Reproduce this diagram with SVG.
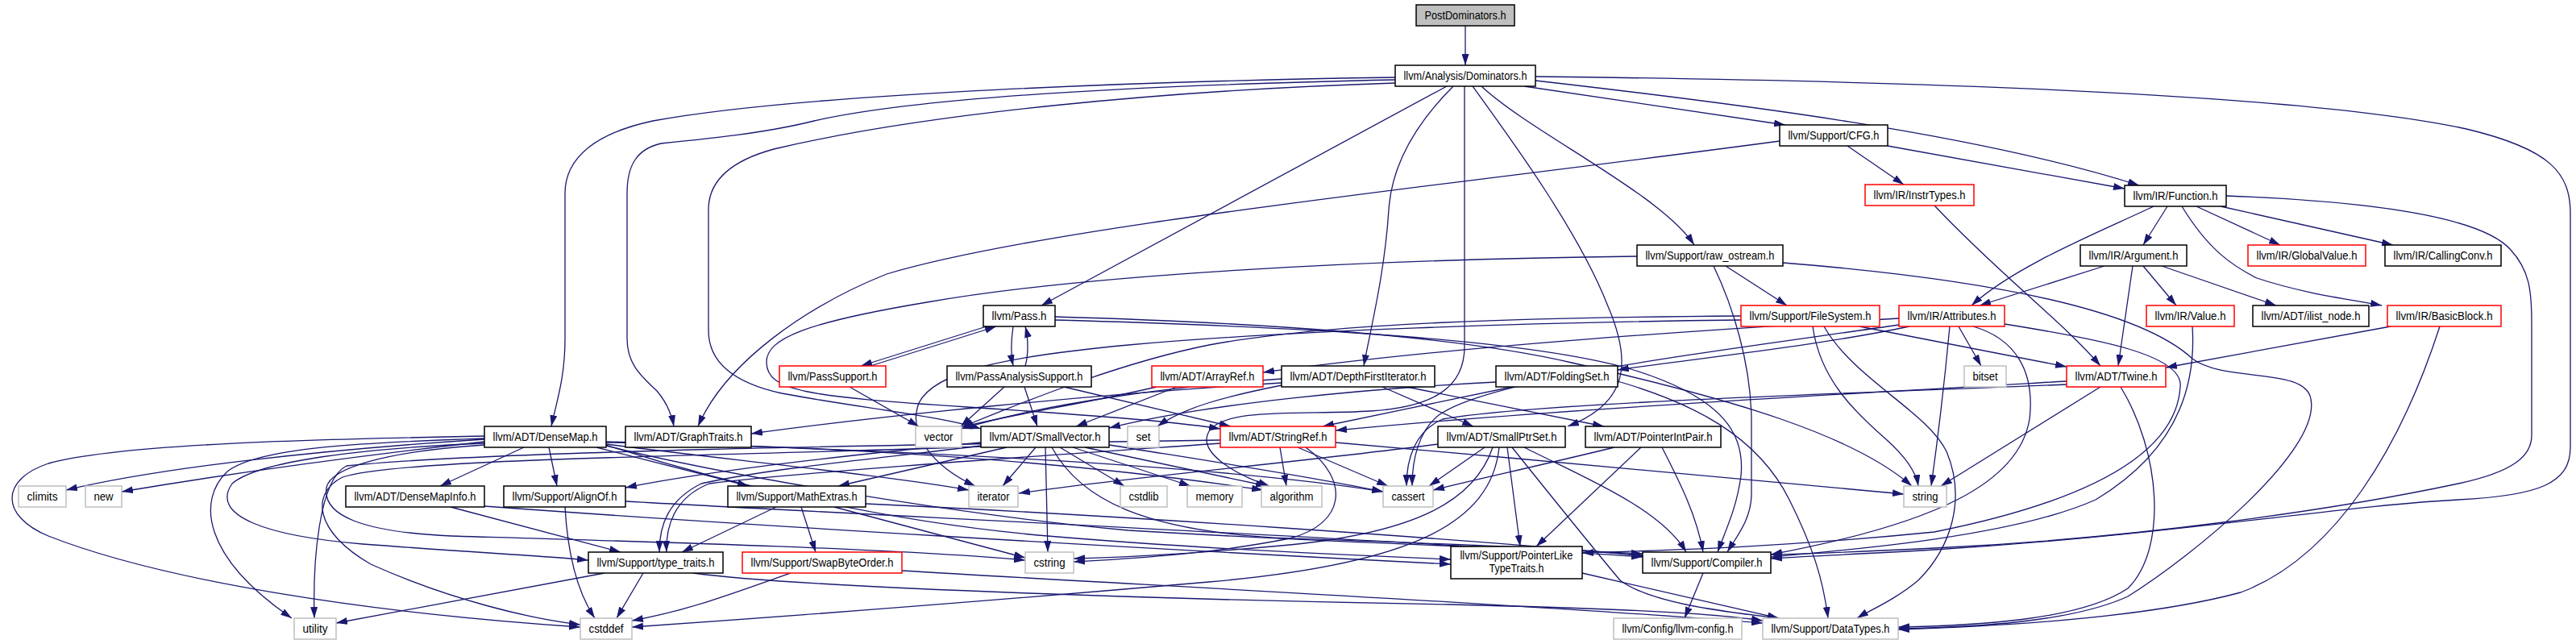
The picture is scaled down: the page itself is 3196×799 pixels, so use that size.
<svg xmlns="http://www.w3.org/2000/svg" width="3196" height="799" viewBox="0 0 3196 799">
<defs>
<marker id="ah" markerWidth="14" markerHeight="9" refX="14" refY="4.5" orient="auto" markerUnits="userSpaceOnUse"><path d="M0,0 L14,4.5 L0,9 z" fill="#191970"/></marker>
<style>
text{font-family:"Liberation Sans",Arial,sans-serif;font-size:14px;fill:#000;text-anchor:middle}
.nd rect{fill:#fff;stroke:#000;stroke-width:1.5}
.rd rect{fill:#fff;stroke:#f00;stroke-width:1.5}
.gy rect{fill:#fff;stroke:#bfbfbf;stroke-width:1.5}
.rt rect{fill:#bfbfbf;stroke:#000;stroke-width:1.5}
#edges path{fill:none;stroke:#191970;stroke-width:1.3;marker-end:url(#ah)}
</style>
</defs>
<rect width="3196" height="799" fill="#fff"/>
<g id="edges">
<path d="M1818,32 L1818,81"/>
<path d="M1731,96 C1450,100 1000,115 810,150 C740,165 701,195 701,240 L701,420 C701,470 690,500 684,529"/>
<path d="M1731,99 C1450,105 1150,118 1010,150 C950,165 880,172 820,178 C790,185 778,205 778,240 L778,420 C778,455 800,470 815,485 C826,498 833,512 836,529"/>
<path d="M1731,103 C1450,112 1150,140 960,185 C905,200 879,225 879,260 L879,410 C879,450 910,475 970,488 C1060,505 1160,515 1217,532"/>
<path d="M1795,107 L1292,379"/>
<path d="M1803,107 C1760,150 1727,200 1723,260 C1718,340 1700,410 1692,454"/>
<path d="M1817,107 L1817,430 C1817,480 1780,505 1700,510 C1620,515 1520,505 1500,535 C1485,560 1530,588 1575,603"/>
<path d="M1827,107 C1880,180 1960,290 1995,380 C2025,450 2020,500 1945,529"/>
<path d="M1838,107 C1900,165 2060,240 2102,304"/>
<path d="M1891,107 L2215,155"/>
<path d="M1905,100 C2150,128 2450,165 2654,230"/>
<path d="M1905,95 C2350,100 2850,115 3060,160 C3165,185 3189,215 3189,265 L3189,555 C3189,600 3150,615 3050,620 C2900,628 2700,663 2400,682 C2300,688 2240,690 2197,693"/>
<path d="M1224,405 L1068,454"/>
<path d="M1080,454 L1236,405"/>
<path d="M1257,405 C1254,425 1254,440 1257,454"/>
<path d="M1272,454 C1276,440 1276,420 1272,405"/>
<path d="M1309,393 C1550,400 1800,415 1950,450 C2150,495 2300,540 2372,603"/>
<path d="M1309,397 C1600,405 1900,420 2030,460 C2140,495 2165,540 2160,590 C2155,630 2140,660 2131,685"/>
<path d="M1054,480 L1140,529"/>
<path d="M1246,480 L1192,529"/>
<path d="M1271,480 L1287,529"/>
<path d="M1320,480 L1527,529"/>
<path d="M1460,480 L1335,529"/>
<path d="M1435,480 C1350,500 1250,515 1193,530"/>
<path d="M1590,470 C1450,480 1300,500 1193,532"/>
<path d="M1590,475 C1350,490 1100,515 932,538"/>
<path d="M1590,478 C1520,492 1470,505 1436,529"/>
<path d="M1715,480 L1828,529"/>
<path d="M1745,480 L1990,529"/>
<path d="M1856,474 C1700,482 1500,500 1376,531"/>
<path d="M1876,480 L1641,529"/>
<path d="M2007,473 C2100,500 2180,540 2220,620 C2250,680 2262,720 2268,767"/>
<path d="M1285,555 L1244,603"/>
<path d="M1297,555 L1300,685"/>
<path d="M1315,555 L1395,603"/>
<path d="M1331,555 L1477,603"/>
<path d="M1346,555 L1572,603"/>
<path d="M1305,555 C1340,620 1420,660 1600,668 C1800,675 1950,680 2038,690"/>
<path d="M1249,555 L1040,603"/>
<path d="M1217,553 C1100,568 960,580 870,600 C830,620 818,650 818,685"/>
<path d="M1217,549 C1100,560 900,580 776,605"/>
<path d="M1376,552 C1500,572 1620,590 1716,610"/>
<path d="M1217,554 C900,566 500,568 425,592 C385,612 390,660 460,700 C560,745 660,768 720,775"/>
<path d="M1657,549 C1900,570 2200,598 2362,613"/>
<path d="M1610,555 L1722,603"/>
<path d="M1620,555 C1675,595 1670,650 1600,668 C1500,688 1400,693 1332,697"/>
<path d="M1514,550 C1300,565 1000,585 880,600 C835,618 826,655 827,685"/>
<path d="M1514,546 C1100,552 600,560 430,578 C395,595 388,700 390,767"/>
<path d="M1588,555 L1596,603"/>
<path d="M1842,555 L1773,603"/>
<path d="M1852,555 C1830,620 1760,660 1600,676 C1450,690 1380,692 1332,693"/>
<path d="M1860,555 C1850,650 1750,700 1500,722 C1200,748 900,770 784,778"/>
<path d="M1870,555 L1886,678"/>
<path d="M1876,555 C1920,610 1960,660 2010,720 C2050,750 2150,760 2207,767"/>
<path d="M1891,555 C1960,590 2060,630 2092,685"/>
<path d="M1784,551 C1600,575 1400,592 1264,612"/>
<path d="M2003,555 C1900,580 1830,595 1778,608"/>
<path d="M2036,555 L1906,678"/>
<path d="M2062,555 C2085,600 2105,640 2113,685"/>
<path d="M1963,711 L2207,767"/>
<path d="M2113,711 L2090,767"/>
<path d="M2564,473 C2300,488 1900,510 1657,534"/>
<path d="M2564,477 C2300,488 1900,500 1790,520 C1755,535 1745,570 1745,603"/>
<path d="M2606,480 L2408,603"/>
<path d="M2631,480 C2680,560 2690,680 2640,730 C2580,770 2450,776 2355,778"/>
<path d="M2307,405 L2564,455"/>
<path d="M2249,405 C2258,470 2300,510 2340,545 C2368,570 2378,590 2380,603"/>
<path d="M2263,405 C2300,470 2390,510 2415,560 C2440,620 2420,680 2380,720 C2350,745 2320,757 2304,767"/>
<path d="M2160,392 C1900,394 1650,400 1500,428 C1400,448 1290,490 1193,530"/>
<path d="M2160,397 C1900,400 1600,410 1400,428 C1250,442 1160,460 1140,500 C1125,540 1160,580 1210,603"/>
<path d="M2356,395 C2100,410 1800,430 1567,462"/>
<path d="M2369,405 C2250,430 2100,445 2007,459"/>
<path d="M2430,405 L2458,454"/>
<path d="M2419,405 C2412,480 2402,560 2396,603"/>
<path d="M2356,403 C2100,440 1850,470 1785,515 C1760,535 1752,570 1752,603"/>
<path d="M2487,402 C2600,420 2710,440 2705,480 C2700,560 2600,620 2400,660 C2200,680 2050,683 1963,686"/>
<path d="M2448,405 C2500,420 2525,460 2518,520 C2505,600 2400,650 2197,688"/>
<path d="M2611,330 L2456,379"/>
<path d="M2646,330 L2628,454"/>
<path d="M2659,330 L2700,379"/>
<path d="M2682,330 L2824,379"/>
<path d="M2672,256 C2600,290 2500,330 2446,379"/>
<path d="M2689,256 L2659,304"/>
<path d="M2725,256 L2829,304"/>
<path d="M2755,256 L2969,304"/>
<path d="M2707,256 C2740,310 2770,330 2800,345 C2860,365 2920,372 2955,379"/>
<path d="M2762,243 C2950,250 3080,270 3115,310 C3138,335 3141,360 3141,400 L3141,540 C3141,565 3120,585 3050,600 C2900,632 2650,668 2400,680 C2300,685 2240,687 2197,688"/>
<path d="M2342,181 L2636,234"/>
<path d="M2292,181 L2362,229"/>
<path d="M2208,175 C1800,230 1300,280 1100,340 C1000,380 900,450 866,529"/>
<path d="M2400,255 C2480,340 2560,400 2606,454"/>
<path d="M2141,330 L2217,379"/>
<path d="M2126,330 C2150,380 2172,450 2173,520 L2173,615 C2172,645 2155,665 2143,685"/>
<path d="M2212,326 C2450,345 2650,380 2720,445 C2760,475 2860,455 2867,495 C2880,560 2720,690 2640,740 C2570,772 2450,778 2355,780"/>
<path d="M2031,318 C1700,322 1350,340 1150,375 C1000,400 950,420 951,450 C952,485 1000,492 1200,505 C1350,515 1450,522 1514,532"/>
<path d="M2720,405 C2725,480 2700,560 2600,620 C2500,665 2300,682 2197,691"/>
<path d="M2966,405 L2687,456"/>
<path d="M3027,405 C2980,550 2900,690 2780,735 C2650,770 2450,778 2355,781"/>
<path d="M601,545 C400,558 200,580 82,608"/>
<path d="M601,548 C450,565 300,585 151,610"/>
<path d="M650,555 L546,603"/>
<path d="M681,555 L691,603"/>
<path d="M601,541 C400,545 150,550 60,575 C0,595 0,640 60,665 C200,720 450,760 720,778"/>
<path d="M601,544 C450,549 320,555 282,585 C245,620 250,690 362,767"/>
<path d="M601,550 C450,556 320,572 288,600 C260,640 330,665 450,675 C580,685 680,690 730,695"/>
<path d="M601,552 C480,560 410,580 405,605 C400,640 450,660 560,665 C800,672 1100,680 1272,695"/>
<path d="M740,555 L929,603"/>
<path d="M752,551 C900,570 1100,590 1202,608"/>
<path d="M752,549 C1000,553 1300,568 1567,608"/>
<path d="M752,548 C1050,556 1500,575 1716,610"/>
<path d="M752,553 C900,590 1200,640 1400,658 C1700,676 1900,680 2038,687"/>
<path d="M752,552 C900,600 1100,648 1300,665 C1500,682 1700,690 1800,694"/>
<path d="M559,629 L770,685"/>
<path d="M601,628 C900,650 1400,680 1800,700"/>
<path d="M701,629 C705,700 720,740 738,767"/>
<path d="M776,622 C1100,640 1700,668 2038,691"/>
<path d="M963,629 L846,685"/>
<path d="M994,629 L1012,685"/>
<path d="M1035,629 L1272,692"/>
<path d="M1074,625 C1400,640 1800,668 2038,689"/>
<path d="M750,711 L417,773"/>
<path d="M798,711 L765,767"/>
<path d="M860,711 C1000,730 1500,745 1800,750 C2000,755 2120,760 2187,770"/>
<path d="M981,711 C900,740 850,758 784,770"/>
<path d="M1119,708 C1400,725 1900,750 2187,773"/>
</g>
<g id="n_postdom" class="rt"><rect x="1757" y="6" width="122" height="26"/><text x="1818" y="24" textLength="101" lengthAdjust="spacingAndGlyphs">PostDominators.h</text></g>
<g id="n_dom" class="nd"><rect x="1731" y="81" width="174" height="26"/><text x="1818" y="99" textLength="153" lengthAdjust="spacingAndGlyphs">llvm/Analysis/Dominators.h</text></g>
<g id="n_cfg" class="nd"><rect x="2208" y="155" width="134" height="26"/><text x="2275" y="173" textLength="113" lengthAdjust="spacingAndGlyphs">llvm/Support/CFG.h</text></g>
<g id="n_instr" class="rd"><rect x="2314" y="229" width="135" height="26"/><text x="2381.5" y="247" textLength="114" lengthAdjust="spacingAndGlyphs">llvm/IR/InstrTypes.h</text></g>
<g id="n_func" class="nd"><rect x="2636" y="230" width="126" height="26"/><text x="2699" y="248" textLength="105" lengthAdjust="spacingAndGlyphs">llvm/IR/Function.h</text></g>
<g id="n_rawos" class="nd"><rect x="2031" y="304" width="181" height="26"/><text x="2121.5" y="322" textLength="160" lengthAdjust="spacingAndGlyphs">llvm/Support/raw_ostream.h</text></g>
<g id="n_arg" class="nd"><rect x="2581" y="304" width="132" height="26"/><text x="2647" y="322" textLength="111" lengthAdjust="spacingAndGlyphs">llvm/IR/Argument.h</text></g>
<g id="n_gv" class="rd"><rect x="2789" y="304" width="146" height="26"/><text x="2862" y="322" textLength="125" lengthAdjust="spacingAndGlyphs">llvm/IR/GlobalValue.h</text></g>
<g id="n_cc" class="nd"><rect x="2959" y="304" width="144" height="26"/><text x="3031" y="322" textLength="123" lengthAdjust="spacingAndGlyphs">llvm/IR/CallingConv.h</text></g>
<g id="n_pass" class="nd"><rect x="1220" y="379" width="89" height="26"/><text x="1264.5" y="397" textLength="68" lengthAdjust="spacingAndGlyphs">llvm/Pass.h</text></g>
<g id="n_fs" class="rd"><rect x="2160" y="379" width="172" height="26"/><text x="2246" y="397" textLength="151" lengthAdjust="spacingAndGlyphs">llvm/Support/FileSystem.h</text></g>
<g id="n_attr" class="rd"><rect x="2356" y="379" width="131" height="26"/><text x="2421.5" y="397" textLength="110" lengthAdjust="spacingAndGlyphs">llvm/IR/Attributes.h</text></g>
<g id="n_value" class="rd"><rect x="2663" y="379" width="109" height="26"/><text x="2717.5" y="397" textLength="88" lengthAdjust="spacingAndGlyphs">llvm/IR/Value.h</text></g>
<g id="n_ilist" class="nd"><rect x="2795" y="379" width="144" height="26"/><text x="2867" y="397" textLength="123" lengthAdjust="spacingAndGlyphs">llvm/ADT/ilist_node.h</text></g>
<g id="n_bb" class="rd"><rect x="2962" y="379" width="141" height="26"/><text x="3032.5" y="397" textLength="120" lengthAdjust="spacingAndGlyphs">llvm/IR/BasicBlock.h</text></g>
<g id="n_passsup" class="rd"><rect x="967" y="454" width="132" height="26"/><text x="1033" y="472" textLength="111" lengthAdjust="spacingAndGlyphs">llvm/PassSupport.h</text></g>
<g id="n_pas" class="nd"><rect x="1175" y="454" width="179" height="26"/><text x="1264.5" y="472" textLength="158" lengthAdjust="spacingAndGlyphs">llvm/PassAnalysisSupport.h</text></g>
<g id="n_arrayref" class="rd"><rect x="1429" y="454" width="138" height="26"/><text x="1498" y="472" textLength="117" lengthAdjust="spacingAndGlyphs">llvm/ADT/ArrayRef.h</text></g>
<g id="n_dfi" class="nd"><rect x="1590" y="454" width="190" height="26"/><text x="1685" y="472" textLength="169" lengthAdjust="spacingAndGlyphs">llvm/ADT/DepthFirstIterator.h</text></g>
<g id="n_folding" class="nd"><rect x="1856" y="454" width="151" height="26"/><text x="1931.5" y="472" textLength="130" lengthAdjust="spacingAndGlyphs">llvm/ADT/FoldingSet.h</text></g>
<g id="n_bitset" class="gy"><rect x="2437" y="454" width="52" height="26"/><text x="2463" y="472" textLength="31" lengthAdjust="spacingAndGlyphs">bitset</text></g>
<g id="n_twine" class="rd"><rect x="2564" y="454" width="123" height="26"/><text x="2625.5" y="472" textLength="102" lengthAdjust="spacingAndGlyphs">llvm/ADT/Twine.h</text></g>
<g id="n_densemap" class="nd"><rect x="601" y="529" width="151" height="26"/><text x="676.5" y="547" textLength="130" lengthAdjust="spacingAndGlyphs">llvm/ADT/DenseMap.h</text></g>
<g id="n_graphtraits" class="nd"><rect x="776" y="529" width="156" height="26"/><text x="854" y="547" textLength="135" lengthAdjust="spacingAndGlyphs">llvm/ADT/GraphTraits.h</text></g>
<g id="n_vector" class="gy"><rect x="1136" y="529" width="57" height="26"/><text x="1164.5" y="547" textLength="36" lengthAdjust="spacingAndGlyphs">vector</text></g>
<g id="n_smallvec" class="nd"><rect x="1217" y="529" width="159" height="26"/><text x="1296.5" y="547" textLength="138" lengthAdjust="spacingAndGlyphs">llvm/ADT/SmallVector.h</text></g>
<g id="n_set" class="gy"><rect x="1399" y="529" width="39" height="26"/><text x="1418.5" y="547" textLength="18" lengthAdjust="spacingAndGlyphs">set</text></g>
<g id="n_stringref" class="rd"><rect x="1514" y="529" width="143" height="26"/><text x="1585.5" y="547" textLength="122" lengthAdjust="spacingAndGlyphs">llvm/ADT/StringRef.h</text></g>
<g id="n_smallptr" class="nd"><rect x="1784" y="529" width="158" height="26"/><text x="1863" y="547" textLength="137" lengthAdjust="spacingAndGlyphs">llvm/ADT/SmallPtrSet.h</text></g>
<g id="n_ptrintpair" class="nd"><rect x="1967" y="529" width="168" height="26"/><text x="2051" y="547" textLength="147" lengthAdjust="spacingAndGlyphs">llvm/ADT/PointerIntPair.h</text></g>
<g id="n_climits" class="gy"><rect x="23" y="603" width="59" height="26"/><text x="52.5" y="621" textLength="38" lengthAdjust="spacingAndGlyphs">climits</text></g>
<g id="n_new" class="gy"><rect x="106" y="603" width="45" height="26"/><text x="128.5" y="621" textLength="24" lengthAdjust="spacingAndGlyphs">new</text></g>
<g id="n_dmi" class="nd"><rect x="429" y="603" width="172" height="26"/><text x="515" y="621" textLength="151" lengthAdjust="spacingAndGlyphs">llvm/ADT/DenseMapInfo.h</text></g>
<g id="n_alignof" class="nd"><rect x="625" y="603" width="151" height="26"/><text x="700.5" y="621" textLength="130" lengthAdjust="spacingAndGlyphs">llvm/Support/AlignOf.h</text></g>
<g id="n_mathext" class="nd"><rect x="903" y="603" width="171" height="26"/><text x="988.5" y="621" textLength="150" lengthAdjust="spacingAndGlyphs">llvm/Support/MathExtras.h</text></g>
<g id="n_iterator" class="gy"><rect x="1202" y="603" width="61" height="26"/><text x="1232.5" y="621" textLength="40" lengthAdjust="spacingAndGlyphs">iterator</text></g>
<g id="n_cstdlib" class="gy"><rect x="1390" y="603" width="58" height="26"/><text x="1419" y="621" textLength="37" lengthAdjust="spacingAndGlyphs">cstdlib</text></g>
<g id="n_memory" class="gy"><rect x="1473" y="603" width="68" height="26"/><text x="1507" y="621" textLength="47" lengthAdjust="spacingAndGlyphs">memory</text></g>
<g id="n_algorithm" class="gy"><rect x="1565" y="603" width="75" height="26"/><text x="1602.5" y="621" textLength="54" lengthAdjust="spacingAndGlyphs">algorithm</text></g>
<g id="n_cassert" class="gy"><rect x="1716" y="603" width="62" height="26"/><text x="1747" y="621" textLength="41" lengthAdjust="spacingAndGlyphs">cassert</text></g>
<g id="n_string" class="gy"><rect x="2362" y="603" width="53" height="26"/><text x="2388.5" y="621" textLength="32" lengthAdjust="spacingAndGlyphs">string</text></g>
<g id="n_typetraits" class="nd"><rect x="730" y="685" width="167" height="26"/><text x="813.5" y="703" textLength="146" lengthAdjust="spacingAndGlyphs">llvm/Support/type_traits.h</text></g>
<g id="n_swap" class="rd"><rect x="921" y="685" width="198" height="26"/><text x="1020" y="703" textLength="177" lengthAdjust="spacingAndGlyphs">llvm/Support/SwapByteOrder.h</text></g>
<g id="n_cstring" class="gy"><rect x="1272" y="685" width="60" height="26"/><text x="1302" y="703" textLength="39" lengthAdjust="spacingAndGlyphs">cstring</text></g>
<g id="n_ptrlike" class="nd"><rect x="1800" y="678" width="163" height="40"/><text x="1881.5" y="694" textLength="140" lengthAdjust="spacingAndGlyphs">llvm/Support/PointerLike</text><text x="1881.5" y="710" textLength="68" lengthAdjust="spacingAndGlyphs">TypeTraits.h</text></g>
<g id="n_compiler" class="nd"><rect x="2038" y="685" width="159" height="26"/><text x="2117.5" y="703" textLength="138" lengthAdjust="spacingAndGlyphs">llvm/Support/Compiler.h</text></g>
<g id="n_utility" class="gy"><rect x="365" y="767" width="52" height="26"/><text x="391" y="785" textLength="31" lengthAdjust="spacingAndGlyphs">utility</text></g>
<g id="n_cstddef" class="gy"><rect x="720" y="767" width="64" height="26"/><text x="752" y="785" textLength="43" lengthAdjust="spacingAndGlyphs">cstddef</text></g>
<g id="n_llvmconfig" class="gy"><rect x="2002" y="767" width="159" height="26"/><text x="2081.5" y="785" textLength="138" lengthAdjust="spacingAndGlyphs">llvm/Config/llvm-config.h</text></g>
<g id="n_datatypes" class="gy"><rect x="2187" y="767" width="168" height="26"/><text x="2271" y="785" textLength="147" lengthAdjust="spacingAndGlyphs">llvm/Support/DataTypes.h</text></g>
</svg>
